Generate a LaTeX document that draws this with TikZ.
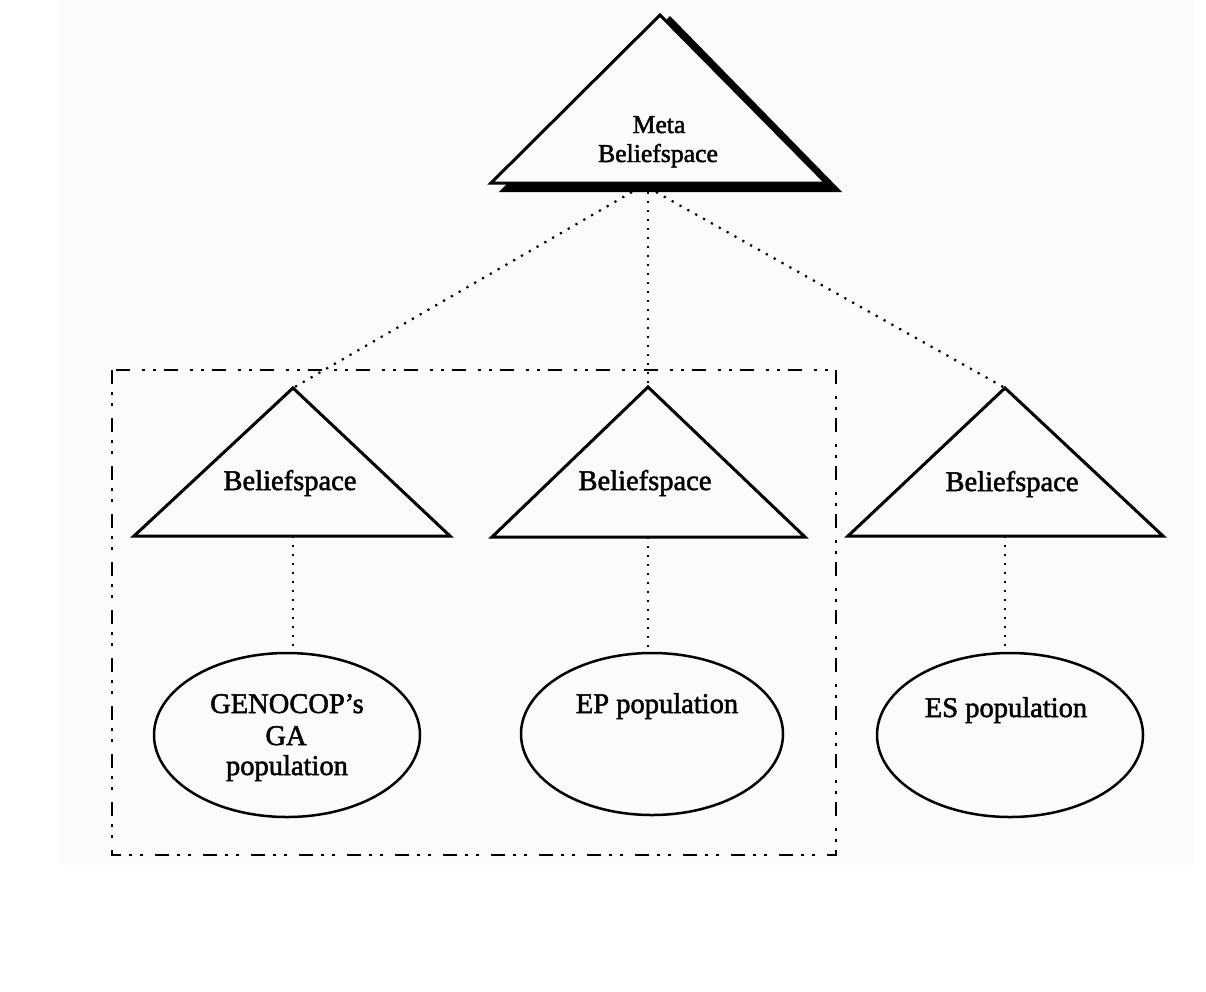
\documentclass[tikz,border=0pt]{standalone}
\usepackage{fontspec}
\setmainfont[FakeBold=1.8]{Liberation Serif}
\usetikzlibrary{shapes.geometric}
\definecolor{bgpaper}{HTML}{FBFBFB}
\tikzset{
  tri/.style={draw=black, line width=3pt, line join=miter, fill=bgpaper},
  pop/.style={draw=black, ellipse, line width=2.5pt, minimum width=266pt, minimum height=164pt, inner sep=0pt, fill=bgpaper},
  lbl/.style={font=\fontsize{28.5}{31}\selectfont, inner sep=0pt, anchor=base},
  metalbl/.style={font=\fontsize{25.7}{29}\selectfont, inner sep=0pt, anchor=base},
  dotline/.style={line width=2.2pt, dash pattern=on 2.2pt off 6.8pt},
  groupbox/.style={line width=2.5pt, dash pattern=on 14pt off 8pt on 3pt off 8pt on 3pt off 12pt}
}
\begin{document}
\begin{tikzpicture}[x=1pt,y=-1pt]
\useasboundingbox (0,0) rectangle (1206,991);
\fill[white] (0,0) rectangle (1206,991);
\fill[bgpaper] (60,0) rectangle (1195,865);

% group box
\draw[groupbox] (112,370) rectangle (836,855);

% named points
\coordinate (mL) at (632,192);
\coordinate (mC) at (648,192);
\coordinate (mR) at (656,192);
\coordinate (t1a) at (293,388);
\coordinate (t2a) at (648,387);
\coordinate (t3a) at (1005,388);
\coordinate (t1b) at (293,536);
\coordinate (t2b) at (648,537);
\coordinate (t3b) at (1005,536);

% ellipses
\node[pop] (e1) at (287,735) {};
\node[pop, minimum width=262pt, minimum height=162pt] (e2) at (652,734) {};
\node[pop] (e3) at (1010,735) {};

% connectors
\draw[dotline] (mL) -- (t1a);
\draw[dotline] (mC) -- (t2a);
\draw[dotline] (mR) -- (t3a);
\draw[dotline] (t1b) -- (t1b |- e1.north);
\draw[dotline] (t2b) -- (t2b |- e2.north);
\draw[dotline] (t3b) -- (t3b |- e3.north);

% meta triangle with shadow
\fill[black] (670,16) -- (842,192) -- (499,192) -- cycle;
\draw[tri] (660,15) -- (826,183) -- (491,183) -- cycle;
\node[metalbl] (m1) at (659,133) {Meta};
\node[metalbl] (m2) at (658,162) {Beliefspace};

% belief triangles
\draw[tri] (t1a) -- (450,536) -- (134,536) -- cycle;
\draw[tri] (t2a) -- (805,537) -- (492,537) -- cycle;
\draw[tri] (t3a) -- (1163,536) -- (848,536) -- cycle;
\node[lbl] (b1) at (290,490) {Beliefspace};
\node[lbl] (b2) at (645,490) {Beliefspace};
\node[lbl] (b3) at (1012,491) {Beliefspace};

% population labels
\node[lbl] (p1a) at (287,713) {GENOCOP’s};
\node[lbl] (p1b) at (286,745) {GA};
\node[lbl] (p1c) at (287,775) {population};
\node[lbl] (p2) at (657,713) {EP population};
\node[lbl] (p3) at (1006,717) {ES population};
\end{tikzpicture}
\end{document}
